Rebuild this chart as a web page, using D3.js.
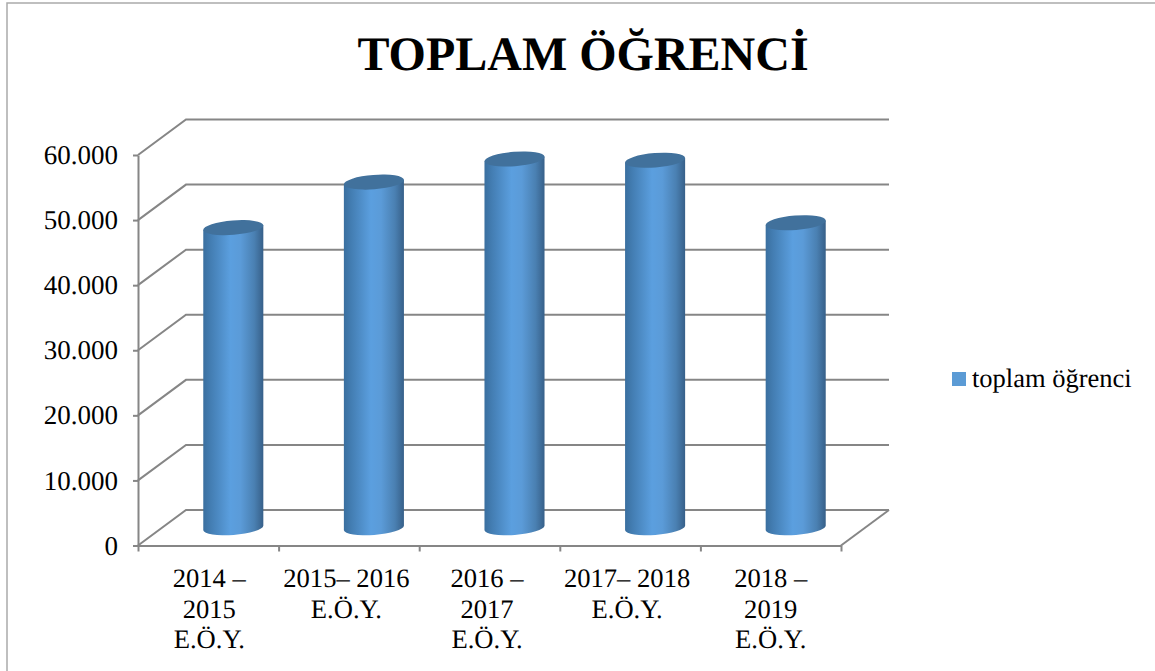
<!DOCTYPE html>
<html>
<head>
<meta charset="utf-8">
<script src="https://cdn.jsdelivr.net/npm/d3@7"></script>
<style>
  html, body { margin: 0; padding: 0; background: #fff; }
  svg { display: block; }
  text { font-family: "Liberation Serif", serif; fill: #000; text-rendering: geometricPrecision; }
  .axis path, .axis line { stroke: #868686; stroke-width: 2; }
  .axis text { font-family: "Liberation Serif", serif; font-size: 27px; fill: #000; }
</style>
</head>
<body>
<svg id="chart" width="1155" height="671"></svg>
<script>
const chartTitle = "TOPLAM ÖĞRENCİ";
const seriesName = "toplam öğrenci";
const categories = ["2014-15", "2015-16", "2016-17", "2017-18", "2018-19"];
const categoryLabels = [
  ["2014 –", "2015", "E.Ö.Y."],
  ["2015– 2016", "E.Ö.Y."],
  ["2016 –", "2017", "E.Ö.Y."],
  ["2017– 2018", "E.Ö.Y."],
  ["2018 –", "2019", "E.Ö.Y."],
];
const students = [46150, 53150, 56700, 56500, 46900];
const yTicks = [0, 10000, 20000, 30000, 40000, 50000, 60000];

const svg = d3.select("#chart");

// 3D box: the back wall is shifted from the front plane by this much
const depth = { x: 48, y: -35.5 };
const plot = { left: 138, right: 841, top: 155, bottom: 545.5 };
// the source labels are not quite centred under their slots
const labelNudge = [1, -2.5, -2.5, -3, 0];

const y = d3.scaleLinear().domain([0, 60000]).range([plot.bottom, plot.top]);
const x = d3.scaleBand().domain(categories).range([plot.left, plot.right]).paddingInner(0.58).paddingOuter(0.29);
const xEdges = d3.scaleLinear().domain([0, categories.length]).range([plot.left, plot.right]);

const trNumber = d3.formatLocale({ decimal: ",", thousands: ".", grouping: [3], currency: ["", ""] }).format(",");

// chart frame
svg.append("path")
  .attr("d", "M7,671V3H1155")
  .attr("fill", "none")
  .attr("stroke", "#aaa")
  .attr("stroke-width", 1.5);

svg.append("text")
  .text(chartTitle)
  .attr("x", 583)
  .attr("y", 70)
  .attr("text-anchor", "middle")
  .attr("font-weight", "bold")
  .attr("font-size", 48);

// gradient for the cylinders
const defs = svg.append("defs");
const grad = defs.append("linearGradient").attr("id", "cyl").attr("x1", 0).attr("x2", 1).attr("y1", 0).attr("y2", 0);
[[0, "#3a6f9f"], [0.12, "#437db2"], [0.45, "#5b9fdf"], [0.62, "#5b9bd8"], [0.85, "#4a80b2"], [1, "#376089"]].forEach((s) => {
  grad.append("stop").attr("offset", s[0]).attr("stop-color", s[1]);
});

// gridlines: side wall + back wall
svg.append("g")
  .selectAll("path")
  .data(yTicks)
  .join("path")
  .attr("d", (d) => `M${plot.left},${y(d)}L${plot.left + depth.x},${y(d) + depth.y}H${plot.right + depth.x}`)
  .attr("fill", "none")
  .attr("stroke", "#868686")
  .attr("stroke-width", 2);

// floor, right edge
svg.append("line")
  .attr("x1", plot.right)
  .attr("y1", y(0))
  .attr("x2", plot.right + depth.x)
  .attr("y2", y(0) + depth.y)
  .attr("stroke", "#868686")
  .attr("stroke-width", 2);

svg.append("g")
  .attr("class", "axis")
  .attr("transform", `translate(${plot.left},0)`)
  .call(d3.axisLeft(y).tickValues(yTicks).tickFormat(trNumber).tickSize(5).tickSizeOuter(0).tickPadding(15));

svg.append("g")
  .attr("class", "axis")
  .attr("transform", `translate(0,${plot.bottom})`)
  .call(d3.axisBottom(xEdges).ticks(categories.length).tickFormat("").tickSize(6).tickSizeOuter(0));

// cylinders
const tilt = 2.3; // half the rise of the ellipse over the bar width
const ry = 7.2;
const lift = 17.5; // bar axis sits half way into the floor
const barW = x.bandwidth() + 1;

const bars = svg.append("g")
  .selectAll("g")
  .data(students)
  .join("g")
  .attr("transform", (d, i) => `translate(${x(categories[i]) + depth.x / 2 + 0.5},0)`);

bars.append("path")
  .attr("fill", "url(#cyl)")
  .attr("d", (d) => {
    const rx = barW / 2 + 0.1;
    const top = y(d) - lift;
    const base = y(0) - lift;
    return `M0,${top + tilt}L0,${base + tilt}A${rx},${ry} -4.5 0 0 ${barW},${base - tilt}L${barW},${top - tilt}Z`;
  });

bars.append("ellipse")
  .attr("cx", barW / 2)
  .attr("cy", (d) => y(d) - lift)
  .attr("rx", barW / 2 + 0.1)
  .attr("ry", ry)
  .attr("transform", (d) => `rotate(-4.5,${barW / 2},${y(d) - lift})`)
  .attr("fill", "#41719c");

// category labels
svg.append("g")
  .selectAll("text")
  .data(categoryLabels)
  .join("text")
  .attr("text-anchor", "middle")
  .attr("font-size", 26.6)
  .attr("y", 587)
  .each(function (lines, i) {
    const cx = x(categories[i]) + x.bandwidth() / 2 + labelNudge[i];
    d3.select(this)
      .selectAll("tspan")
      .data(lines)
      .join("tspan")
      .attr("x", cx)
      .attr("dy", (d, k) => (k === 0 ? 0 : 30.5))
      .text((d) => d);
  });

// legend
svg.append("rect")
  .attr("x", 952)
  .attr("y", 372)
  .attr("width", 14)
  .attr("height", 14)
  .attr("fill", "#5b9bd5");

svg.append("text")
  .text(seriesName)
  .attr("x", 972)
  .attr("y", 387)
  .attr("font-size", 26.5);
</script>
</body>
</html>
